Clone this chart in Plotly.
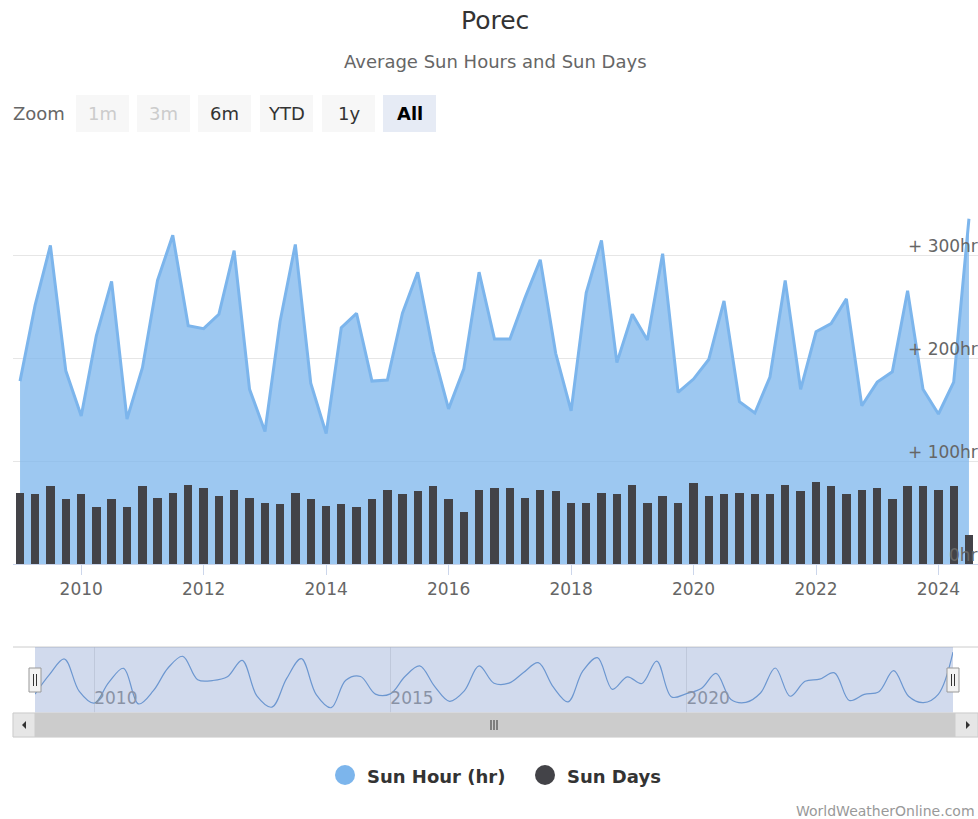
import plotly.graph_objects as go
import pandas as pd

# ---------------- data ----------------
quarters = [d.strftime("%Y-%m-%d") for d in pd.date_range("2009-01-01", periods=63, freq="QS")]

sun_hours = [178, 252, 310, 188, 144, 222, 275, 141, 191, 276,
             320, 232, 229, 243, 305, 170, 129, 236, 311, 176,
             127, 230, 244, 178, 179, 244, 284, 207, 151, 190,
             284, 219, 219, 259, 296, 205, 149, 264, 315, 196,
             243, 218, 302, 167, 180, 199, 256, 158, 147, 182,
             276, 170, 226, 234, 258, 154, 177, 187, 266, 170,
             146, 177, 336]

sun_days = [69, 68, 76, 63, 68, 55, 63, 55, 76, 64,
            69, 77, 74, 66, 72, 64, 59, 58, 69, 63,
            56, 58, 55, 63, 72, 68, 71, 76, 63, 51,
            72, 74, 74, 64, 72, 71, 59, 59, 69, 68,
            77, 59, 66, 59, 79, 66, 68, 69, 68, 68,
            77, 71, 80, 76, 68, 72, 74, 63, 76, 76,
            72, 76, 28]

year_ticks = ["2010", "2012", "2014", "2016", "2018", "2020", "2022", "2024"]
nav_year_ticks = ["2010", "2015", "2020"]
y_ticks = [0, 100, 200, 300, 400]
y_tick_text = ["0hr", "+ 100hr", "+ 200hr", "+ 300hr", ""]
zoom_buttons = ["1m", "3m", "6m", "YTD", "1y", "All"]

# ---------------- geometry helpers ----------------
W, H = 978, 819
PLOT_LEFT, PLOT_TOP, PLOT_BOTTOM = 13, 153, 713
L, R, T, B = PLOT_LEFT, 0, PLOT_TOP, H - PLOT_BOTTOM
PW, PH = W - L - R, H - T - B
FONT = "DejaVu Sans"
Y_MAX = 400
MAIN_TOP_PX, MAIN_BOTTOM_PX = 153, 564


def px(x):
    return (x - PLOT_LEFT) / PW


def py(y):
    return (PLOT_BOTTOM - y) / PH


BLUE = "#7cb5ec"
DARK = "#434348"

fig = go.Figure()

fig.add_trace(go.Scatter(
    x=quarters, y=sun_hours, mode="lines", fill="tozeroy",
    line=dict(color=BLUE, width=3), fillcolor="rgba(124,181,236,0.75)",
    name="Sun Hour (hr)", xaxis="x", yaxis="y", hoverinfo="skip"))

fig.add_trace(go.Bar(
    x=quarters, y=sun_days, marker=dict(color=DARK, line=dict(width=0)),
    width=50 * 86400000, name="Sun Days", xaxis="x", yaxis="y3", hoverinfo="skip"))

# navigator series
fig.add_trace(go.Scatter(
    x=quarters, y=sun_hours, mode="lines", line=dict(color="#6f9fd6", width=1.2, shape="spline"),
    xaxis="x2", yaxis="y2", hoverinfo="skip", showlegend=False))

shapes = []
annotations = []

# y-axis labels (inside, right, above the grid lines)
label_shift = 9.5 * Y_MAX / (MAIN_BOTTOM_PX - MAIN_TOP_PX)
for v, t in zip(y_ticks, y_tick_text):
    if t:
        annotations.append(dict(text=t, x=px(980), y=v + label_shift, xref="paper", yref="y",
                                xanchor="right", yanchor="middle", showarrow=False,
                                font=dict(family=FONT, size=17, color="#666666")))

# range selector
annotations.append(dict(text="Zoom", x=px(11), y=py(113), xref="paper", yref="paper",
                        xanchor="left", yanchor="middle", showarrow=False,
                        font=dict(family=FONT, size=18, color="#666666")))
btn_x = [76, 137, 198, 260, 322, 383]
for i, lab in enumerate(zoom_buttons):
    x0 = btn_x[i]
    sel = lab == "All"
    disabled = lab in ("1m", "3m")
    shapes.append(dict(type="rect", xref="paper", yref="paper",
                       x0=px(x0), x1=px(x0 + 53), y0=py(132), y1=py(95),
                       fillcolor="#e6ebf5" if sel else "#f7f7f7", line=dict(width=0)))
    annotations.append(dict(text=("<b>%s</b>" % lab) if sel else lab,
                            x=px(x0 + 26.5), y=py(113), xref="paper", yref="paper",
                            xanchor="center", yanchor="middle", showarrow=False,
                            font=dict(family=FONT, size=18,
                                      color="#cccccc" if disabled else ("#000000" if sel else "#333333"))))

# navigator decorations
shapes.append(dict(type="line", xref="paper", yref="paper", x0=px(13), x1=px(978),
                   y0=py(647), y1=py(647), line=dict(color="#cccccc", width=1)))
shapes.append(dict(type="rect", xref="paper", yref="paper", x0=px(35), x1=px(953),
                   y0=py(713), y1=py(647), fillcolor="rgba(102,133,194,0.3)",
                   line=dict(width=0), layer="above"))
for hx in (35, 953):
    shapes.append(dict(type="rect", xref="paper", yref="paper", x0=px(hx - 6), x1=px(hx + 6),
                       y0=py(692), y1=py(668), fillcolor="#f2f2f2",
                       line=dict(color="#999999", width=1), layer="above"))
    for dx in (-1.5, 1.5):
        shapes.append(dict(type="line", xref="paper", yref="paper", x0=px(hx + dx), x1=px(hx + dx),
                           y0=py(686), y1=py(674), line=dict(color="#333333", width=1), layer="above"))

# scrollbar
shapes.append(dict(type="rect", xref="paper", yref="paper", x0=px(13), x1=px(978),
                   y0=py(737), y1=py(713), fillcolor="#f2f2f2", line=dict(color="#f2f2f2", width=1)))
shapes.append(dict(type="rect", xref="paper", yref="paper", x0=px(35), x1=px(955),
                   y0=py(737), y1=py(713), fillcolor="#cccccc", line=dict(color="#cccccc", width=1)))
shapes.append(dict(type="rect", xref="paper", yref="paper", x0=px(13), x1=px(35),
                   y0=py(737), y1=py(713), fillcolor="#e6e6e6", line=dict(color="#cccccc", width=1)))
shapes.append(dict(type="rect", xref="paper", yref="paper", x0=px(955), x1=px(978),
                   y0=py(737), y1=py(713), fillcolor="#e6e6e6", line=dict(color="#cccccc", width=1)))
shapes.append(dict(type="path", xref="paper", yref="paper",
                   path="M %f %f L %f %f L %f %f Z" % (px(26), py(721), px(22), py(725), px(26), py(729)),
                   fillcolor="#333333", line=dict(width=0)))
shapes.append(dict(type="path", xref="paper", yref="paper",
                   path="M %f %f L %f %f L %f %f Z" % (px(966), py(721), px(970), py(725), px(966), py(729)),
                   fillcolor="#333333", line=dict(width=0)))
for gx in (491, 494, 497):
    shapes.append(dict(type="line", xref="paper", yref="paper", x0=px(gx), x1=px(gx),
                       y0=py(730), y1=py(720), line=dict(color="#333333", width=1)))

# legend
legend_items = [("Sun Hour (hr)", BLUE, 345), ("Sun Days", DARK, 545)]
for lab, col, cx in legend_items:
    shapes.append(dict(type="circle", xref="paper", yref="paper",
                       x0=px(cx - 10), x1=px(cx + 10), y0=py(785), y1=py(765),
                       fillcolor=col, line=dict(width=0)))
    annotations.append(dict(text="<b>%s</b>" % lab, x=px(cx + 20), y=py(776),
                            xref="paper", yref="paper", xanchor="left", yanchor="middle",
                            showarrow=False, font=dict(family=FONT, size=18, color="#333333")))

# titles & credit
annotations.append(dict(text="Porec", x=px(495), y=py(21), xref="paper", yref="paper",
                        xanchor="center", yanchor="middle", showarrow=False,
                        font=dict(family=FONT, size=25, color="#333333")))
annotations.append(dict(text="Average Sun Hours and Sun Days", x=px(495), y=py(62),
                        xref="paper", yref="paper", xanchor="center", yanchor="middle",
                        showarrow=False, font=dict(family=FONT, size=18, color="#666666")))
annotations.append(dict(text="WorldWeatherOnline.com", x=px(977), y=py(811),
                        xref="paper", yref="paper", xanchor="right", yanchor="middle",
                        showarrow=False, font=dict(family=FONT, size=14, color="#999999")))

fig.update_layout(
    width=W, height=H,
    margin=dict(l=L, r=R, t=T, b=B, pad=0),
    paper_bgcolor="white", plot_bgcolor="white",
    showlegend=False, hovermode=False, bargap=0,
    font=dict(family=FONT),
    xaxis=dict(type="date", domain=[0, 1], anchor="y",
               range=["2008-11-20", "2024-08-24"],
               tickvals=[y + "-01-01" for y in year_ticks], ticktext=year_ticks,
               showgrid=False, zeroline=False, showline=True, linecolor="#ccd6eb", linewidth=1,
               ticks="outside", ticklen=10, tickcolor="#ccd6eb",
               tickfont=dict(family=FONT, size=17, color="#666666")),
    yaxis=dict(domain=[py(MAIN_BOTTOM_PX), 1], anchor="x", range=[0, Y_MAX], side="right",
               tickvals=y_ticks, showticklabels=False,
               showgrid=True, gridcolor="#e6e6e6", gridwidth=1, zeroline=False,
               showline=False, ticks=""),
    yaxis3=dict(domain=[py(MAIN_BOTTOM_PX), 1], anchor="x", overlaying="y", range=[0, Y_MAX],
                showticklabels=False, showgrid=False, zeroline=False, showline=False, ticks=""),
    xaxis2=dict(type="date", domain=[px(35), px(953)], anchor="y2",
                range=["2009-01-01", "2024-07-01"],
                tickvals=[y + "-01-01" for y in nav_year_ticks], ticktext=nav_year_ticks,
                ticklabelposition="inside right", ticks="",
                showgrid=True, gridcolor="#e6e6e6", zeroline=False, showline=False,
                tickfont=dict(family=FONT, size=17, color="#999999")),
    yaxis2=dict(domain=[0, py(647)], anchor="x2", range=[107, 355], visible=False),
    shapes=shapes, annotations=annotations,
)

fig.write_html("out.html", config={"displayModeBar": False},
               post_script="document.body.style.margin='0';document.body.style.overflow='hidden';")
